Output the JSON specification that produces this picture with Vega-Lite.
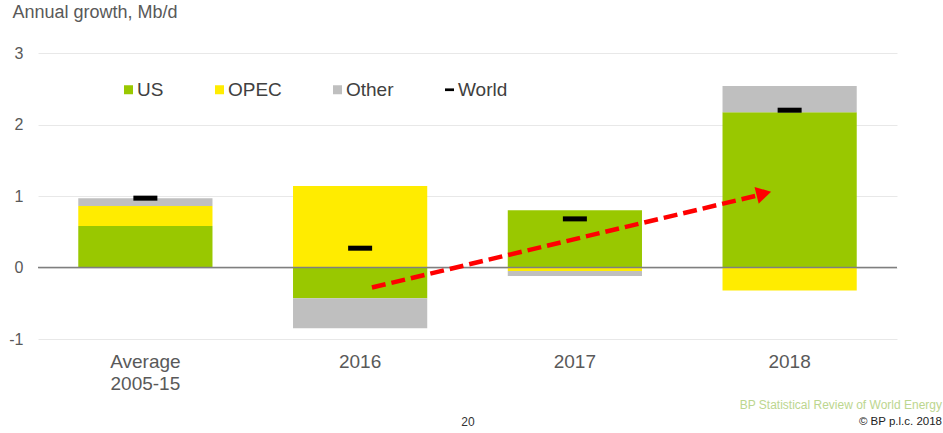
{
  "$schema": "https://vega.github.io/schema/vega-lite/v6.json",
  "autosize": {"type": "none"},
  "width": 859,
  "height": 286,
  "padding": {"left": 38, "top": 53, "right": 46, "bottom": 94},
  "background": "white",
  "config": {
    "view": {"stroke": null},
    "font": "Liberation Sans"
  },
  "title": {
    "text": "BP Statistical Review of World Energy",
    "subtitle": "© BP p.l.c. 2018",
    "orient": "bottom",
    "anchor": "end",
    "frame": "group",
    "fontSize": 12,
    "fontWeight": "normal",
    "color": "#bcd68f",
    "subtitleFontSize": 11.5,
    "subtitleColor": "#222222",
    "subtitlePadding": 4,
    "dx": 45,
    "dy": -31
  },
  "datasets": {
    "bars": [
      {"period": "Average 2005-15", "series": "US", "value": 0.58},
      {"period": "Average 2005-15", "series": "OPEC", "value": 0.28},
      {"period": "Average 2005-15", "series": "Other", "value": 0.11},
      {"period": "2016", "series": "US", "value": -0.43},
      {"period": "2016", "series": "OPEC", "value": 1.14},
      {"period": "2016", "series": "Other", "value": -0.42},
      {"period": "2017", "series": "US", "value": 0.80},
      {"period": "2017", "series": "OPEC", "value": -0.05},
      {"period": "2017", "series": "Other", "value": -0.07},
      {"period": "2018", "series": "US", "value": 2.17},
      {"period": "2018", "series": "OPEC", "value": -0.32},
      {"period": "2018", "series": "Other", "value": 0.37}
    ],
    "world": [
      {"period": "Average 2005-15", "value": 0.97},
      {"period": "2016", "value": 0.27},
      {"period": "2017", "value": 0.68},
      {"period": "2018", "value": 2.2}
    ],
    "arrow": [
      {"x": 1.555, "y": -0.28, "x2": 3.34, "y2": 1.0}
    ],
    "arrowhead": [
      {"x": 3.38, "y": 1.035}
    ]
  },
  "layer": [
    {
      "layer": [
        {
          "data": {"name": "bars"},
          "transform": [
            {"calculate": "indexof(['US','OPEC','Other'], datum.series)", "as": "ord"}
          ],
          "mark": {"type": "bar"},
          "encoding": {
            "x": {
              "field": "period",
              "type": "nominal",
              "sort": ["Average 2005-15", "2016", "2017", "2018"],
              "scale": {"paddingInner": 0.375, "paddingOuter": 0.1875},
              "axis": {
                "title": "20",
                "titleFontSize": 12,
                "titleFontWeight": "normal",
                "titleColor": "#333333",
                "titlePadding": 23,
                "labelAngle": 0,
                "labelFontSize": 19,
                "labelColor": "#595959",
                "labelPadding": 13,
                "labelLineHeight": 22,
                "labelExpr": "datum.value == 'Average 2005-15' ? ['Average', '2005-15'] : datum.label",
                "domain": false,
                "ticks": false,
                "grid": false
              }
            },
            "y": {
              "field": "value",
              "type": "quantitative",
              "stack": "zero",
              "scale": {"domain": [-1, 3], "nice": false},
              "axis": {
                "values": [-1, 0, 1, 2, 3],
                "labelExpr": "'' + datum.value",
                "title": "Annual growth, Mb/d",
                "titleAngle": 0,
                "titleAlign": "left",
                "titleBaseline": "middle",
                "titleX": -26,
                "titleY": -41,
                "titleFontSize": 18,
                "titleFontWeight": "normal",
                "titleColor": "#595959",
                "labelFontSize": 16,
                "labelColor": "#595959",
                "labelPadding": 15,
                "domain": false,
                "ticks": false,
                "grid": true,
                "gridColor": "#e8e8e8",
                "gridWidth": 1
              }
            },
            "color": {
              "field": "series",
              "type": "nominal",
              "scale": {
                "domain": ["US", "OPEC", "Other", "World"],
                "range": ["#99c800", "#ffec00", "#bfbfbf", "#000000"]
              },
              "legend": {
                "title": null,
                "orient": "none",
                "direction": "horizontal",
                "legendX": 81,
                "legendY": 27,
                "symbolType": "square",
                "symbolSize": 81,
                "symbolStrokeWidth": 0,
                "labelFontSize": 19,
                "labelColor": "#404040",
                "labelOffset": -1,
                "columnPadding": 46,
                "encode": {
                  "symbols": {
                    "update": {
                      "shape": {"signal": "datum.value === 'World' ? 'M-1,-0.3H1V0.3H-1Z' : 'square'"}
                    }
                  }
                }
              }
            },
            "order": {"field": "ord", "sort": "ascending"}
          }
        },
        {
          "data": {"name": "world"},
          "mark": {"type": "tick", "color": "#000000", "thickness": 5, "size": 24, "opacity": 1},
          "encoding": {
            "x": {"field": "period", "type": "nominal", "sort": ["Average 2005-15", "2016", "2017", "2018"]},
            "y": {"field": "value", "type": "quantitative"}
          }
        },
        {
          "data": {"values": [{"zero": 0}]},
          "mark": {"type": "rule", "color": "#7f7f7f", "strokeWidth": 1.5},
          "encoding": {"y": {"field": "zero", "type": "quantitative"}}
        }
      ]
    },
    {
      "layer": [
        {
          "data": {"name": "arrow"},
          "mark": {"type": "rule", "color": "#ff0000", "strokeWidth": 4.5, "strokeDash": [14, 6]},
          "encoding": {
            "x": {"field": "x", "type": "quantitative", "scale": {"domain": [0, 4], "nice": false, "zero": false}, "axis": null},
            "x2": {"field": "x2"},
            "y": {"field": "y", "type": "quantitative"},
            "y2": {"field": "y2"}
          }
        },
        {
          "data": {"name": "arrowhead"},
          "mark": {"type": "point", "shape": "triangle-right", "filled": true, "color": "#ff0000", "opacity": 1, "size": 300, "angle": -14},
          "encoding": {
            "x": {"field": "x", "type": "quantitative"},
            "y": {"field": "y", "type": "quantitative"}
          }
        }
      ]
    }
  ],
  "resolve": {"scale": {"x": "independent"}, "axis": {"x": "independent"}}
}
